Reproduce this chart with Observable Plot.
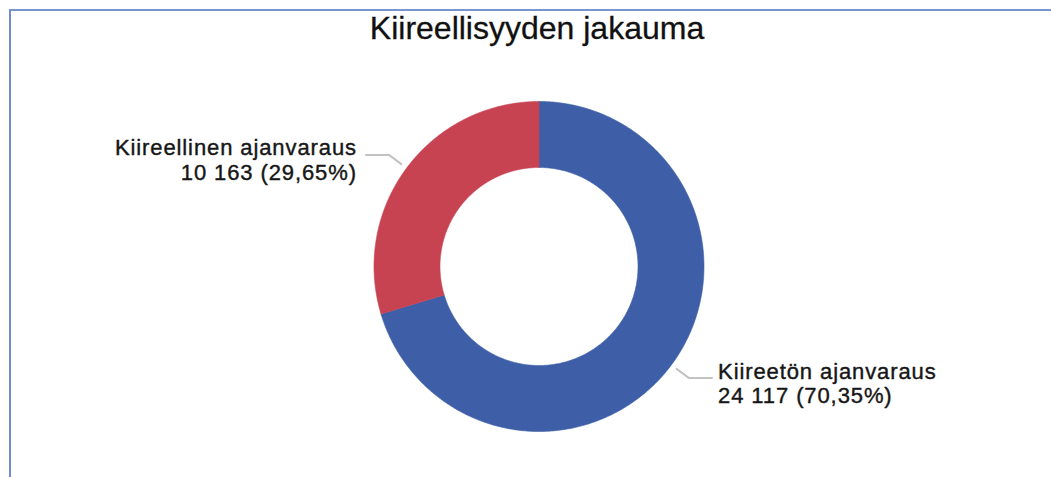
<!DOCTYPE html>
<html>
<head>
<meta charset="utf-8">
<script src="https://cdn.jsdelivr.net/npm/d3@7"></script>
<script src="https://cdn.jsdelivr.net/npm/@observablehq/plot@0.6"></script>
<style>
  html, body { margin: 0; padding: 0; background: #fff; }
  #wrap { position: relative; width: 1051px; height: 477px; overflow: hidden; background: #fff; }
  #frame { position: absolute; left: 9px; top: 9px; width: 1050px; height: 480px;
           border-left: 2px solid #6f8dcc; border-top: 2px solid #7895d2; box-sizing: border-box; }
  #title { position: absolute; top: 12px; left: 537px; transform: translateX(-50%);
           font-family: "Liberation Sans", Arial, sans-serif; font-size: 32px; line-height: 32px;
           color: #111; white-space: nowrap; -webkit-text-stroke: 0.3px #111; }
  #chart { position: absolute; left: 0; top: 0; }
  #chart text { letter-spacing: 0.9px; }
</style>
</head>
<body>
<div id="wrap">
  <div id="frame"></div>
  <div id="chart"></div>
  <div id="title">Kiireellisyyden jakauma</div>
</div>
<script>
// ---- data ----
const categories = ["Kiireetön ajanvaraus", "Kiireellinen ajanvaraus"];
const values = [24117, 10163];
const colors = ["#3e5fa7", "#c84352"];
const title = "Kiireellisyyden jakauma";

// ---- layout ----
const W = 1051, H = 477;
const CX = 538.5, CY = 266, R = 165;
const INNER = 0.6;

const total = d3.sum(values);
const fmtInt = n => String(n).replace(/\B(?=(\d{3})+(?!\d))/g, " ");
const fmtPct = p => (p * 100).toFixed(2).replace(".", ",") + "%";

let acc = 0;
const slices = categories.map((c, i) => {
  const a0 = acc / total * 2 * Math.PI;
  acc += values[i];
  const a1 = acc / total * 2 * Math.PI;
  return {category: c, value: values[i], color: colors[i], a0, a1, mid: (a0 + a1) / 2};
});

function ring(a0, a1, r0, r1, n) {
  const pts = [];
  for (let i = 0; i <= n; i++) { const a = a0 + (a1 - a0) * i / n; pts.push({x: r1 * Math.sin(a), y: r1 * Math.cos(a)}); }
  for (let i = n; i >= 0; i--) { const a = a0 + (a1 - a0) * i / n; pts.push({x: r0 * Math.sin(a), y: r0 * Math.cos(a)}); }
  pts.push(pts[0]);
  return pts;
}

const LR1 = 171.5 / R, LR2 = 187 / R, HLEN = 23 / R;
const leaders = slices.map(s => {
  const sx = Math.sin(s.mid), cy = Math.cos(s.mid);
  const side = sx >= 0 ? 1 : -1;
  const ex = LR2 * sx, ey = LR2 * cy;
  return {
    side,
    pts: [{x: LR1 * sx, y: LR1 * cy}, {x: ex, y: ey}, {x: ex + side * HLEN, y: ey}],
    label: {x: ex + side * HLEN, y: ey, side,
            text: s.category + "\n" + fmtInt(s.value) + " (" + fmtPct(s.value / total) + ")"}
  };
});

const marks = [];
slices.forEach(s => {
  marks.push(Plot.line(ring(s.a0, s.a1, INNER, 1, 360), {
    x: "x", y: "y", fill: s.color, stroke: s.color, strokeWidth: 0.6, curve: "linear"
  }));
});
leaders.forEach(l => {
  marks.push(Plot.line(l.pts, {x: "x", y: "y", stroke: "#c2c2c2", strokeWidth: 2, curve: "linear"}));
  marks.push(Plot.text([l.label], {
    x: "x", y: "y", text: "text",
    textAnchor: l.side > 0 ? "start" : "end",
    dx: l.side > 0 ? 6 : -9,
    dy: -17,
    lineAnchor: "top",
    lineHeight: 1.12,
    fontSize: 22,
    fontFamily: "Liberation Sans, Arial, sans-serif",
    fill: "#161616",
    stroke: "#161616",
    strokeWidth: 0.4
  }));
});

const chart = Plot.plot({
  width: W, height: H,
  margin: 0,
  x: {domain: [-CX / R, (W - CX) / R], range: [0, W], axis: null},
  y: {domain: [-(H - CY) / R, CY / R], range: [H, 0], axis: null},
  style: {background: "transparent", overflow: "visible"},
  marks
});
document.getElementById("chart").appendChild(chart);
document.getElementById("title").textContent = title;
</script>
</body>
</html>
